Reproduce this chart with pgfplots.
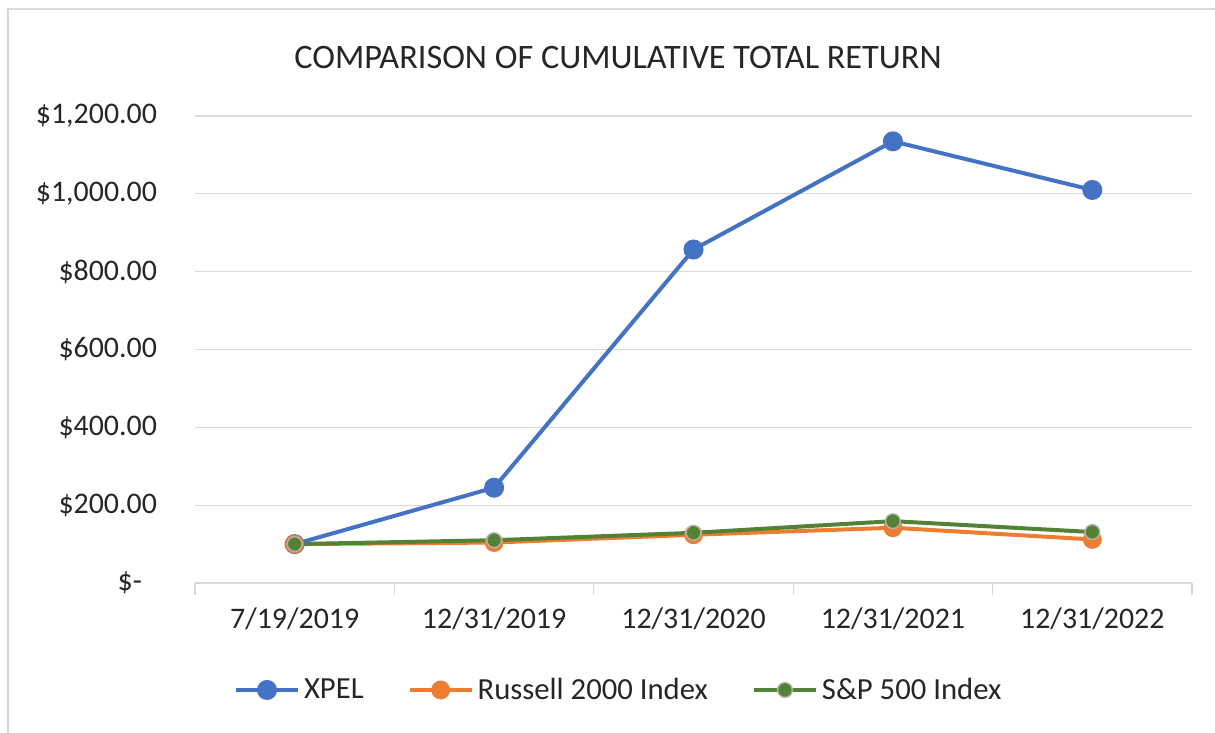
\documentclass[border=0pt]{standalone}
\usepackage{pgfplots}
\pgfplotsset{compat=1.18}
\usepackage{fontspec}
\setmainfont{Carlito}
\definecolor{xpel}{HTML}{4472C4}
\definecolor{russ}{HTML}{ED7D31}
\definecolor{snp}{HTML}{548235}
\definecolor{gridc}{HTML}{D9D9D9}
\definecolor{txt}{HTML}{262626}
\begin{document}
\begin{tikzpicture}[x=1bp,y=1bp]
\useasboundingbox (0,0) rectangle (607.5,-366);
\draw[gridc, line width=0.8bp] (4,-500) -- (4,-4.5) -- (700,-4.5);
\node[text=txt, font=\fontsize{17.2}{20}\selectfont] at (309,-28.5) {COMPARISON OF CUMULATIVE TOTAL RETURN};
\begin{axis}[
  at={(97.5bp,-291.5bp)}, anchor=south west,
  scale only axis, width=498.5bp, height=233.5bp,
  xmin=-0.5, xmax=4.5, ymin=0, ymax=1200,
  axis x line*=bottom, axis y line*=left,
  x axis line style={gridc, line width=0.6bp, -},
  y axis line style={draw=none},
  xtick={0,1,2,3,4},
  xticklabels={7/19/2019,12/31/2019,12/31/2020,12/31/2021,12/31/2022},
  minor xtick={-0.5,0.5,1.5,2.5,3.5,4.5},
  major tick length=0pt, minor tick length=6bp,
  tick align=outside,
  minor tick style={gridc, line width=0.6bp},
  ytick={0,200,400,600,800,1000,1200},
  yticklabels={{\$-\kern7.5bp\strut},{\$200.00},{\$400.00},{\$600.00},{\$800.00},{\$1,000.00},{\$1,200.00}},
  ymajorgrids, major grid style={gridc, line width=0.6bp},
  ticklabel style={font=\fontsize{15}{18}\selectfont, text=txt},
  xticklabel style={yshift=-9bp},
  yticklabel style={xshift=-15.5bp},
  legend style={at={(0.426,-0.229)}, anchor=center, draw=none, legend columns=3,
    font=\fontsize{15.4}{18}\selectfont, text=txt,
    /tikz/every even column/.append style={column sep=20bp}},
  legend image code/.code={\draw[#1] (0bp,0bp) -- (31bp,0bp); \draw[#1, only marks] plot coordinates {(15.5bp,0bp)};},
  clip=false,
]
\addplot[xpel, line width=2bp, mark=*, mark size=4bp, mark options={fill=xpel, draw=xpel}] coordinates {(0,100) (1,245) (2,857) (3,1135) (4,1010)};
\addlegendentry{XPEL}
\addplot[russ, line width=2bp, mark=*, mark size=3.7bp, mark options={fill=russ, draw=russ}] coordinates {(0,100) (1,104) (2,124) (3,142) (4,112)};
\addlegendentry{Russell 2000 Index}
\addplot[snp, line width=2bp, mark=*, mark size=3.7bp, mark options={fill=snp, draw=gray!60, line width=0.7bp}] coordinates {(0,100) (1,110) (2,129) (3,159) (4,131)};
\addlegendentry{S\&P 500 Index}
\end{axis}
\end{tikzpicture}
\end{document}
